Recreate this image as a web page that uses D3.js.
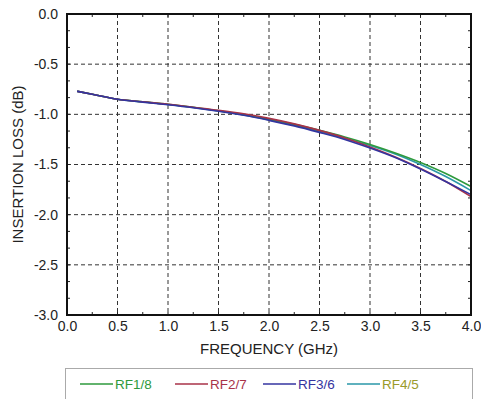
<!DOCTYPE html>
<html>
<head>
<meta charset="utf-8">
<script src="https://cdn.jsdelivr.net/npm/d3@7"></script>
<style>
body { margin:0; background:#fff; }
text { font-family: "Liberation Sans", Arial, sans-serif; fill:#222; }
</style>
</head>
<body>
<svg width="481" height="399"></svg>
<script>
// frequency points (GHz)
var freqs = [0.1, 0.25, 0.5, 0.75, 1.0, 1.25, 1.5, 1.75, 2.0, 2.25, 2.5, 2.75, 3.0, 3.25, 3.5, 3.75, 4.0]

// insertion loss (dB) per port pair
var rf18 = [-0.77, -0.80, -0.85, -0.875, -0.90, -0.93, -0.965, -1.005, -1.05, -1.10, -1.16, -1.225, -1.30, -1.385, -1.48, -1.59, -1.72]
var rf27 = [-0.77, -0.80, -0.85, -0.875, -0.90, -0.93, -0.96, -0.995, -1.04, -1.095, -1.16, -1.235, -1.325, -1.425, -1.54, -1.67, -1.82]
var rf36 = [-0.77, -0.80, -0.85, -0.878, -0.905, -0.935, -0.97, -1.01, -1.06, -1.115, -1.18, -1.25, -1.335, -1.43, -1.545, -1.67, -1.80]
var rf45 = [-0.77, -0.80, -0.85, -0.876, -0.902, -0.932, -0.967, -1.007, -1.055, -1.108, -1.17, -1.24, -1.31, -1.395, -1.50, -1.62, -1.76]

var seriesNames = ["RF1/8", "RF2/7", "RF3/6", "RF4/5"]
var xTicks = [0, 0.5, 1.0, 1.5, 2.0, 2.5, 3.0, 3.5, 4.0]
var yTicks = [0, -0.5, -1.0, -1.5, -2.0, -2.5, -3.0]

var lineColors = ["#2e9a3c", "#a83248", "#3434a0", "#2a97a8"]
var textColors = ["#2e9a3c", "#a83248", "#3434a0", "#9a9a2a"]

var svg = d3.select("svg")
var plot = {left:67, right:471, top:14, bottom:315}

var xScale = d3.scaleLinear().domain([0,4]).range([plot.left, plot.right])
var yScale = d3.scaleLinear().domain([-3,0]).range([plot.bottom, plot.top])

// plain hyphen minus like the original
var fmt = function(d){ return d.toFixed(1) }

// grid
var grid = svg.append("g")
grid.selectAll(".vg")
    .data(xTicks.slice(1, -1))
    .enter()
    .append("line")
    .attr("x1", function(d){ return xScale(d) })
    .attr("x2", function(d){ return xScale(d) })
    .attr("y1", plot.top)
    .attr("y2", plot.bottom)
    .attr("stroke", "#333")
    .attr("stroke-width", 1)
    .attr("stroke-dasharray", "4,3")
grid.selectAll(".hg")
    .data(yTicks.slice(1, -1))
    .enter()
    .append("line")
    .attr("x1", plot.left)
    .attr("x2", plot.right)
    .attr("y1", function(d){ return yScale(d) })
    .attr("y2", function(d){ return yScale(d) })
    .attr("stroke", "#333")
    .attr("stroke-width", 1)
    .attr("stroke-dasharray", "4,3")

// axes
var xAxis = d3.axisBottom(xScale).tickValues(xTicks).tickFormat(fmt).tickSize(0).tickPadding(6)
var yAxis = d3.axisLeft(yScale).tickValues(yTicks).tickFormat(fmt).tickSize(0).tickPadding(9)

var gx = svg.append("g")
    .attr("transform", "translate(0," + plot.bottom + ")")
    .call(xAxis)
var gy = svg.append("g")
    .attr("transform", "translate(" + plot.left + ",0)")
    .call(yAxis)
gx.select(".domain").remove()
gy.select(".domain").remove()
svg.selectAll(".tick text")
    .style("font-size", "14px")
    .style("font-family", "Liberation Sans, Arial, sans-serif")
    .attr("fill", "#222")

// minor ticks
var minorX = d3.range(0.25, 4, 0.25)
var minorY = d3.range(-3, 0.001, 0.5/3)
var ticks = svg.append("g")
ticks.selectAll(".mxb")
    .data(minorX)
    .enter()
    .append("line")
    .attr("x1", function(d){ return xScale(d) })
    .attr("x2", function(d){ return xScale(d) })
    .attr("y1", plot.bottom)
    .attr("y2", plot.bottom - 3)
    .attr("stroke", "#222")
ticks.selectAll(".mxt")
    .data(minorX)
    .enter()
    .append("line")
    .attr("x1", function(d){ return xScale(d) })
    .attr("x2", function(d){ return xScale(d) })
    .attr("y1", plot.top)
    .attr("y2", plot.top + 3)
    .attr("stroke", "#222")
ticks.selectAll(".myl")
    .data(minorY)
    .enter()
    .append("line")
    .attr("x1", plot.left)
    .attr("x2", plot.left + 3)
    .attr("y1", function(d){ return yScale(d) })
    .attr("y2", function(d){ return yScale(d) })
    .attr("stroke", "#222")
ticks.selectAll(".myr")
    .data(minorY)
    .enter()
    .append("line")
    .attr("x1", plot.right)
    .attr("x2", plot.right - 3)
    .attr("y1", function(d){ return yScale(d) })
    .attr("y2", function(d){ return yScale(d) })
    .attr("stroke", "#222")

// series lines
var allSeries = [rf18, rf27, rf36, rf45]
var line = d3.line()
    .x(function(d, i){ return xScale(freqs[i]) })
    .y(function(d){ return yScale(d) })
    .curve(d3.curveMonotoneX)

var drawOrder = [3, 0, 1, 2]
drawOrder.forEach(function(k)
{
    svg.append("path")
        .datum(allSeries[k])
        .attr("d", line)
        .attr("fill", "none")
        .attr("stroke", lineColors[k])
        .attr("stroke-width", 1.6)
})

// frame
svg.append("rect")
    .attr("x", plot.left)
    .attr("y", plot.top)
    .attr("width", plot.right - plot.left)
    .attr("height", plot.bottom - plot.top)
    .attr("fill", "none")
    .attr("stroke", "#111")
    .attr("stroke-width", 2)

// labels
svg.append("text")
    .text("FREQUENCY (GHz)")
    .attr("text-anchor", "middle")
    .attr("x", (plot.left + plot.right) / 2)
    .attr("y", 354)
    .style("font-size", "15px")
svg.append("g")
    .attr("transform", "translate(23," + ((plot.top + plot.bottom) / 2) + ")")
    .append("text")
    .text("INSERTION LOSS (dB)")
    .attr("text-anchor", "middle")
    .attr("transform", "rotate(270)")
    .style("font-size", "15px")

// legend
var legend = svg.append("g")
legend.append("rect")
    .attr("x", 65.5)
    .attr("y", 368.5)
    .attr("width", 407)
    .attr("height", 40)
    .attr("fill", "#fff")
    .attr("stroke", "#aaa")
    .attr("stroke-width", 1)

var legendX = [80, 175, 263, 347]
var entries = legend.selectAll(".entry")
    .data(seriesNames)
    .enter()
    .append("g")
    .attr("transform", function(d, i){ return "translate(" + legendX[i] + ",384)" })
entries.append("line")
    .attr("x1", 0)
    .attr("x2", 33)
    .attr("y1", 0)
    .attr("y2", 0)
    .attr("stroke", function(d, i){ return lineColors[i] })
    .attr("stroke-width", 1.3)
entries.append("text")
    .text(function(d){ return d })
    .attr("x", 35)
    .attr("y", 5)
    .style("font-size", "13.5px")
    .style("fill", function(d, i){ return textColors[i] })
</script>
</body>
</html>
